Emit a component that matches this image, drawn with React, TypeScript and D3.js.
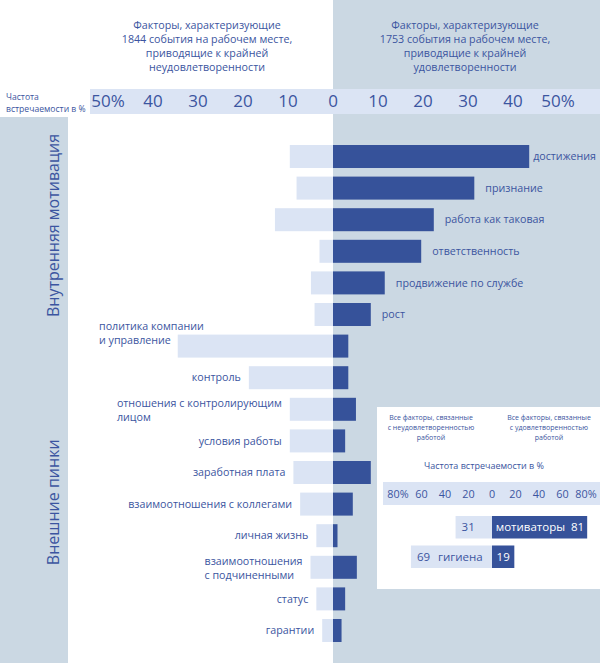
import React, { useEffect, useRef } from "react";
import * as d3 from "d3";

const W = 600;
const H = 663;

// ---------- data ----------
const categories = [
  "достижения",
  "признание",
  "работа как таковая",
  "ответственность",
  "продвижение по службе",
  "рост",
  "политика компании\nи управление",
  "контроль",
  "отношения с контролирующим\nлицом",
  "условия работы",
  "заработная плата",
  "взаимоотношения с коллегами",
  "личная жизнь",
  "взаимоотношения\nс подчиненными",
  "статус",
  "гарантии",
];
const categoryGroup = [0, 0, 0, 0, 0, 0, 1, 1, 1, 1, 1, 1, 1, 1, 1, 1];
const groups = ["Внутренняя мотивация", "Внешние пинки"];
const dissatisfaction = [9.6, 8.1, 12.9, 3.0, 4.9, 4.1, 34.5, 18.7, 9.6, 9.6, 8.8, 7.3, 3.7, 5.0, 3.7, 2.4];
const satisfaction = [43.6, 31.4, 22.4, 19.6, 11.5, 8.4, 3.4, 3.4, 5.1, 2.7, 8.4, 4.4, 1.0, 5.3, 2.7, 1.9];
const axisTicks = [-50, -40, -30, -20, -10, 0, 10, 20, 30, 40, 50];
const axisTitle = ["Частота", "встречаемости в %"];
const leftTitle = ["Факторы, характеризующие", "1844 события на рабочем месте,", "приводящие к крайней", "неудовлетворенности"];
const rightTitle = ["Факторы, характеризующие", "1753 события на рабочем месте,", "приводящие к крайней", "удовлетворенности"];

const summaryCategories = ["мотиваторы", "гигиена"];
const summaryDissatisfaction = [31, 69];
const summarySatisfaction = [81, 19];
const summaryTicks = [-80, -60, -40, -20, 0, 20, 40, 60, 80];
const summaryLeftTitle = ["Все факторы, связанные", "с неудовлетворенностью", "работой"];
const summaryRightTitle = ["Все факторы, связанные", "с удовлетворенностью", "работой"];
const summaryAxisTitle = "Частота встречаемости в %";

// ---------- style ----------
const FONT = "'Open Sans', 'Noto Sans', sans-serif";
const TEXT = "#3b55a0";
const DARK = "#36529a";
const LIGHT = "#dbe4f4";
const PANEL = "#cbd8e3";

const tickLabel = (v: number, max: number) => (Math.abs(v) === max ? `${Math.abs(v)}%` : `${Math.abs(v)}`);

export default function App() {
  const ref = useRef<SVGSVGElement | null>(null);

  useEffect(() => {
    const svg = d3.select(ref.current);
    svg.selectAll("*").remove();
    svg.attr("font-family", FONT);

    const x = d3.scaleLinear().domain([-50, 50]).range([333 - 225, 333 + 225]);
    const y = d3
      .scaleBand<number>()
      .domain(categories.map((_, i) => i))
      .range([145, 642])
      .paddingInner(0.272)
      .paddingOuter(0);
    const bw = y.bandwidth();

    // backgrounds
    svg.append("rect").attr("x", 0).attr("y", 0).attr("width", W).attr("height", H).attr("fill", "#fff");
    svg.append("rect").attr("x", x(0)).attr("y", 0).attr("width", W - x(0)).attr("height", H).attr("fill", PANEL);
    svg.append("rect").attr("x", 0).attr("y", 117).attr("width", 68).attr("height", H - 117).attr("fill", PANEL);

    // titles
    const drawLines = (lines: string[], cx: number, cy0: number, lh: number, size: number, anchor = "middle") => {
      const g = svg.append("g");
      lines.forEach((l, i) => {
        g.append("text")
          .attr("x", cx)
          .attr("y", cy0 + i * lh)
          .attr("dy", "0.35em")
          .attr("text-anchor", anchor)
          .attr("font-size", size)
          .attr("fill", TEXT)
          .text(l);
      });
      return g;
    };
    drawLines(leftTitle, 207, 25.7, 14, 10.7);
    drawLines(rightTitle, 465, 25.7, 14, 10.7);

    // axis band
    svg.append("rect").attr("x", 90).attr("y", 89).attr("width", W - 90).attr("height", 25).attr("fill", LIGHT);
    drawLines(axisTitle, 6, 96.7, 12.6, 8.6, "start");
    svg
      .append("g")
      .selectAll("text")
      .data(axisTicks)
      .join("text")
      .attr("x", (d) => x(d))
      .attr("y", 101.5)
      .attr("dy", "0.35em")
      .attr("text-anchor", "middle")
      .attr("font-size", 17)
      .attr("fill", TEXT)
      .text((d) => tickLabel(d, 50));

    // group labels (rotated)
    groups.forEach((gname, gi) => {
      const idx = categories.map((_, i) => i).filter((i) => categoryGroup[i] === gi);
      const top = y(idx[0])!;
      const bot = y(idx[idx.length - 1])! + bw;
      const cy = (top + bot) / 2 + (gi === 0 ? -10 : 14);
      svg
        .append("text")
        .attr("transform", `translate(53,${cy}) rotate(-90)`)
        .attr("dy", "0.35em")
        .attr("text-anchor", "middle")
        .attr("font-size", 16)
        .attr("fill", TEXT)
        .text(gname);
    });

    // bars
    const bars = svg.append("g");
    bars
      .selectAll("rect.dis")
      .data(dissatisfaction)
      .join("rect")
      .attr("class", "dis")
      .attr("x", (d) => x(-d))
      .attr("y", (_, i) => y(i)!)
      .attr("width", (d) => x(0) - x(-d))
      .attr("height", bw)
      .attr("fill", LIGHT);
    bars
      .selectAll("rect.sat")
      .data(satisfaction)
      .join("rect")
      .attr("class", "sat")
      .attr("x", x(0))
      .attr("y", (_, i) => y(i)!)
      .attr("width", (d) => x(d) - x(0))
      .attr("height", bw)
      .attr("fill", DARK);

    // category labels
    const labels = svg.append("g").attr("font-size", 10.7).attr("fill", TEXT);
    categories.forEach((c, i) => {
      const lines = c.split("\n");
      const cy = y(i)! + bw / 2;
      if (categoryGroup[i] === 0) {
        const t = labels
          .append("text")
          .attr("x", x(satisfaction[i]) + 11)
          .attr("y", cy)
          .attr("dy", "0.35em")
          .text(lines[0]);
        const wdt = (t.node() as SVGTextElement).getComputedTextLength();
        if (x(satisfaction[i]) + 11 + wdt > W - 4) {
          t.attr("x", W - 4).attr("text-anchor", "end");
        }
      } else {
        const ts = lines.map((l) => labels.append("text").attr("dy", "0.35em").text(l));
        const maxW = d3.max(ts, (t) => (t.node() as SVGTextElement).getComputedTextLength()) || 0;
        const right = x(-dissatisfaction[i]) - 8;
        let lx = right - maxW;
        let shift = 0;
        if (lx < 99) {
          lx = 99;
          shift = -13.5;
        }
        const lh = 14;
        const c0 = lines.length > 1 ? cy - 6.5 : cy;
        ts.forEach((t, k) => {
          if (lines.length > 1) t.attr("x", lx);
          else t.attr("x", right).attr("text-anchor", "end");
          t.attr("y", c0 + k * lh + shift);
        });
      }
    });

    // ---------- summary inset ----------
    const inset = svg.append("g");
    inset.append("rect").attr("x", 377).attr("y", 407).attr("width", W - 377).attr("height", 182).attr("fill", "#fff");
    const xs = d3.scaleLinear().domain([-80, 80]).range([492 - 94, 492 + 94]);
    const ys = d3
      .scaleBand<number>()
      .domain(summaryCategories.map((_, i) => i))
      .range([516, 568])
      .paddingInner(0.237)
      .paddingOuter(0);
    const sbw = ys.bandwidth();

    const small = (lines: string[], cx: number) => {
      lines.forEach((l, i) => {
        inset
          .append("text")
          .attr("x", cx)
          .attr("y", 417.3 + i * 10)
          .attr("dy", "0.35em")
          .attr("text-anchor", "middle")
          .attr("font-size", 7)
          .attr("fill", TEXT)
          .text(l);
      });
    };
    small(summaryLeftTitle, 431);
    small(summaryRightTitle, 549);
    inset
      .append("text")
      .attr("x", 484)
      .attr("y", 466)
      .attr("dy", "0.35em")
      .attr("text-anchor", "middle")
      .attr("font-size", 9)
      .attr("fill", TEXT)
      .text(summaryAxisTitle);

    inset.append("rect").attr("x", 383).attr("y", 482).attr("width", W - 383).attr("height", 23).attr("fill", LIGHT);
    inset
      .selectAll("text.tick")
      .data(summaryTicks)
      .join("text")
      .attr("class", "tick")
      .attr("x", (d) => xs(d))
      .attr("y", 494)
      .attr("dy", "0.35em")
      .attr("text-anchor", "middle")
      .attr("font-size", 10.8)
      .attr("fill", TEXT)
      .text((d) => tickLabel(d, 80));

    summaryCategories.forEach((name, i) => {
      const top = ys(i)!;
      const cy = top + sbw / 2;
      inset
        .append("rect")
        .attr("x", xs(-summaryDissatisfaction[i]))
        .attr("y", top)
        .attr("width", xs(0) - xs(-summaryDissatisfaction[i]))
        .attr("height", sbw)
        .attr("fill", LIGHT);
      inset
        .append("rect")
        .attr("x", xs(0))
        .attr("y", top)
        .attr("width", xs(summarySatisfaction[i]) - xs(0))
        .attr("height", sbw)
        .attr("fill", DARK);
      const vt = inset
        .append("text")
        .attr("x", xs(-summaryDissatisfaction[i]) + 6)
        .attr("y", cy)
        .attr("dy", "0.35em")
        .attr("font-size", 11.5)
        .attr("fill", TEXT)
        .text(String(summaryDissatisfaction[i]));
      const darkW = xs(summarySatisfaction[i]) - xs(0);
      if (darkW > 60) {
        inset
          .append("text")
          .attr("x", xs(summarySatisfaction[i]) - 3)
          .attr("y", cy)
          .attr("dy", "0.35em")
          .attr("text-anchor", "end")
          .attr("font-size", 11.5)
          .attr("fill", "#fff")
          .style("white-space", "pre")
          .text(`${name}  ${summarySatisfaction[i]}`);
      } else {
        const vw = (vt.node() as SVGTextElement).getComputedTextLength();
        inset
          .append("text")
          .attr("x", xs(-summaryDissatisfaction[i]) + 6 + vw + 8)
          .attr("y", cy)
          .attr("dy", "0.35em")
          .attr("font-size", 11.5)
          .attr("fill", TEXT)
          .text(name);
        inset
          .append("text")
          .attr("x", (xs(0) + xs(summarySatisfaction[i])) / 2)
          .attr("y", cy)
          .attr("dy", "0.35em")
          .attr("text-anchor", "middle")
          .attr("font-size", 11.5)
          .attr("fill", "#fff")
          .text(String(summarySatisfaction[i]));
      }
    });
  }, []);

  return (
    <svg
      ref={ref}
      width={W}
      height={H}
      viewBox={`0 0 ${W} ${H}`}
      style={{ position: "absolute", left: 0, top: 0, display: "block" }}
    />
  );
}
